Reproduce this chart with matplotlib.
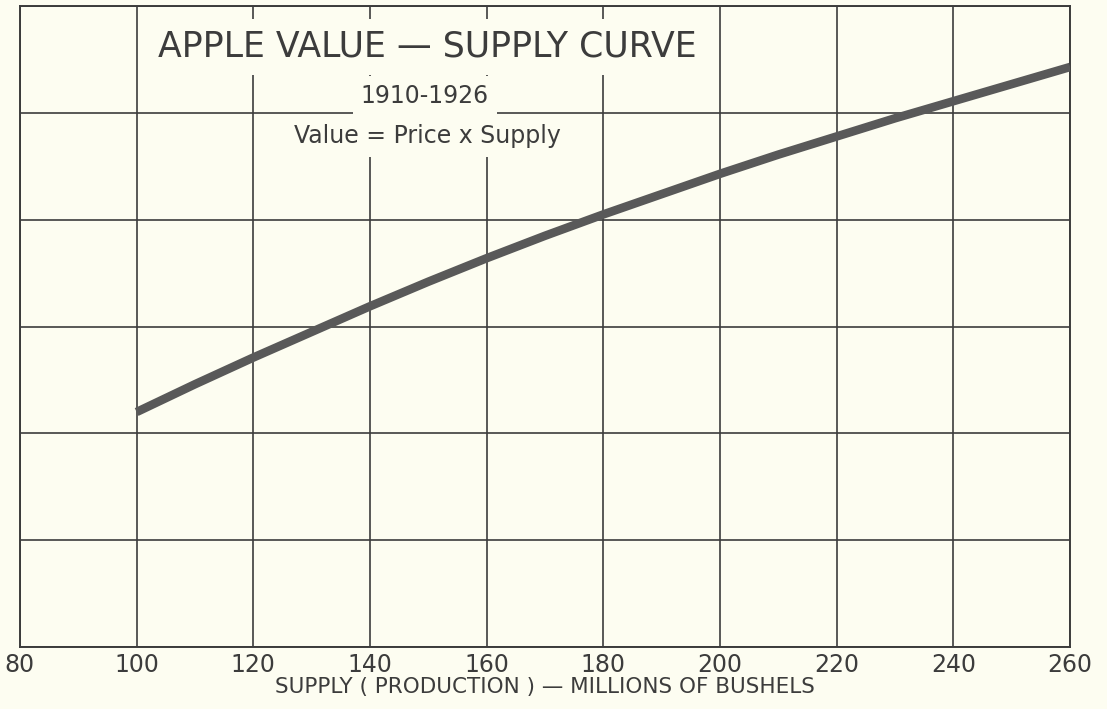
#Apple value - supply curve, 1910-1926

import matplotlib.pyplot as plt
import numpy as np

# supply in millions of bushels, value in chart grid units (no y scale printed)
supply = [100, 110, 120, 130, 140, 150, 160, 170, 180,
          190, 200, 210, 220, 230, 240, 250, 260]
value = [2.20, 2.46, 2.71, 2.95, 3.19, 3.42, 3.64, 3.85, 4.05,
         4.24, 4.43, 4.61, 4.78, 4.95, 5.11, 5.27, 5.43]
x_ticks = [80, 100, 120, 140, 160, 180, 200, 220, 240, 260]
y_grid = [0, 1, 2, 3, 4, 5, 6]

paper = '#fdfdf1'
ink = '#3c3c3c'

fig = plt.figure(figsize=(11.07, 7.09), dpi=100, facecolor=paper)
ax = fig.add_axes([0.018, 0.0874, 0.9487, 0.904])
ax.set_facecolor(paper)

ax.set_xlim(80, 260)
ax.set_ylim(0, 6)
ax.set_xticks(x_ticks)
ax.set_yticks(y_grid)
ax.set_yticklabels([])
ax.tick_params(axis='x', length=0, pad=4, labelsize=17, labelcolor=ink)
ax.tick_params(axis='y', length=0)
ax.grid(True, color=ink, linewidth=1.2)
ax.set_axisbelow(True)
for s in ax.spines.values():
    s.set_color(ink)
    s.set_linewidth(1.4)

ax.plot(supply, value, color='#595959', linewidth=6.2, solid_capstyle='butt', zorder=3)

box = dict(facecolor=paper, edgecolor='none', pad=6)
ax.text(149.8, 5.62, 'APPLE VALUE \u2014 SUPPLY CURVE', ha='center', va='center',
        fontsize=25, color=ink, bbox=dict(facecolor=paper, edgecolor='none', pad=8), zorder=4)
ax.text(149.4, 5.16, '1910-1926', ha='center', va='center',
        fontsize=17, color=ink, bbox=box, zorder=4)
ax.text(149.8, 4.78, 'Value = Price x Supply', ha='center', va='center',
        fontsize=17, color=ink, bbox=box, zorder=4)

ax.set_xlabel('SUPPLY ( PRODUCTION ) \u2014 MILLIONS OF BUSHELS', fontsize=15.5,
              color=ink, labelpad=0)

plt.savefig('out.png', dpi=100, facecolor=paper)
